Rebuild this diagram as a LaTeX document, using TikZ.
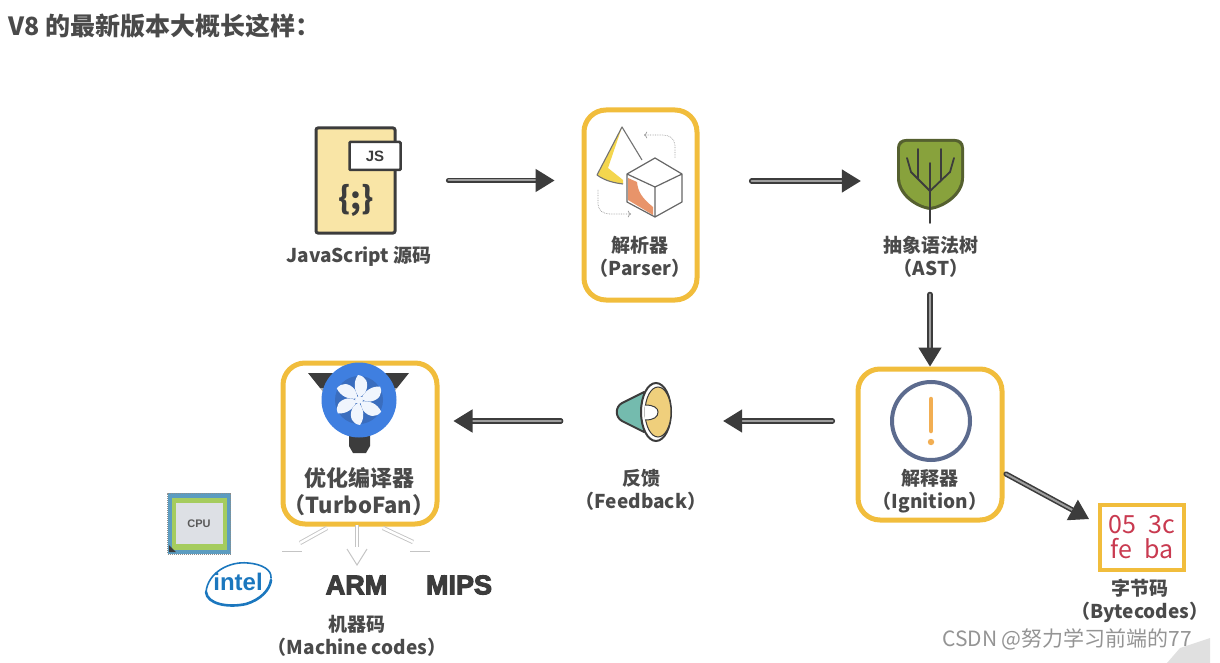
\documentclass[tikz,border=0pt]{standalone}
\usepackage{fontspec}
\setmainfont{Noto Sans CJK SC}
\newfontfamily\latinbold{Liberation Sans}
\newfontfamily\chipfont[UprightFont=* Bold,FakeBold=4]{Liberation Sans}
\usepackage{tikz}
\usetikzlibrary{arrows.meta,positioning}
\definecolor{boxyellow}{HTML}{F1BD3C}
\definecolor{inkdark}{HTML}{3C3C3C}
\definecolor{labgray}{HTML}{4A4A4A}
\definecolor{paleline}{HTML}{C4C4C4}
\definecolor{fileyellow}{HTML}{F9E5A6}
\definecolor{bandyellow}{HTML}{F4D64E}
\definecolor{coneteal}{HTML}{74BBAE}
\definecolor{hornyellow}{HTML}{EFCF7C}
\definecolor{cubeorange}{HTML}{E8946A}
\definecolor{leafdark}{HTML}{55602F}
\definecolor{leafgreen}{HTML}{88A23C}
\definecolor{fanblue}{HTML}{3F7FE0}
\definecolor{fandark}{HTML}{3A6DBE}
\definecolor{slatering}{HTML}{5C6B8E}
\definecolor{markorange}{HTML}{F2AE52}
\definecolor{intelblue}{HTML}{1B77BE}
\definecolor{bytered}{HTML}{C93A50}
\definecolor{cpublue}{HTML}{5C9CC0}
\definecolor{cpugreen}{HTML}{A5CC5E}
\definecolor{cpucore}{HTML}{DDE0E5}
\tikzset{
  ybox/.style  ={draw=boxyellow,line width=5pt,rounded corners=22pt,fill=white,inner sep=0pt},
  flow/.style  ={-{Triangle[length=19pt,width=23pt,fill=inkdark]},draw=inkdark,line width=1.6pt,
                 double=black!38,double distance=2pt,line cap=round},
  lab/.style   ={font=\fontsize{19}{23}\selectfont\bfseries,text=labgray,align=center,inner sep=0pt},
  pale/.style  ={draw=paleline,line width=1pt},
  palebar/.style ={draw=paleline,line width=0.9pt,double=white,double distance=2.5pt},
  dots/.style  ={draw=black!40,line width=0.7pt,densely dotted},
  chiptext/.style ={font=\fontsize{27}{27}\selectfont\chipfont,text=inkdark,inner sep=0pt},
}
\begin{document}
\begin{tikzpicture}[x=1pt,y=-1pt]
\useasboundingbox (0,0) rectangle (1220,663);

\node[anchor=west,inner sep=0pt,text=labgray,font=\fontsize{25}{29}\selectfont\bfseries]
      (title) at (8,26) {V8 的最新版本大概长这样：};

%% source file
\node[draw=inkdark,line width=3pt,fill=fileyellow,rounded corners=2pt,
      minimum width=79pt,minimum height=105pt] (jsfile) at (355.5,180.5) {};
\node[draw=inkdark,line width=2.5pt,fill=white,rounded corners=1pt,minimum width=51pt,
      minimum height=28pt,inner sep=0pt,font=\fontsize{15}{15}\selectfont\latinbold\bfseries,
      text=inkdark] (jstag) at (375,156) {JS};
\node[inner sep=0pt,text=inkdark,font=\fontsize{31}{31}\selectfont\bfseries] (jscode) at (356,200) {\{;\}};
\node[lab] (jslab) at (359,256) {JavaScript 源码};

%% parser
\node[ybox,minimum width=113pt,minimum height=190pt] (parser) at (640.5,205) {};
\fill[fill=bandyellow] (622,127) -- (597,175) .. controls (605,181) and (615,183) .. (623,184)
      -- (623,180) -- (608,168) -- cycle;
\draw[draw=black!55,line width=1.1pt,line join=round] (642,160) -- (622,127) -- (597,175)
      .. controls (605,181) and (615,183) .. (623,184);
\fill[fill=cubeorange] (628,178) -- (637,182) .. controls (638,192) and (642,198) .. (653,207)
      -- (653,215) -- (628,200) -- cycle;
\draw[draw=black!60,line width=1.2pt,line join=round] (655,158) -- (682,174) -- (682,202) -- (655,217)
      -- (627,202) -- (627,174) -- cycle (627,174) -- (655,187) -- (682,174) (655,187) -- (655,217);
\draw[dots,->] (675,158) -- (675,146) .. controls (675,139) and (670,135) .. (663,135) -- (644,135);
\draw[dots,->] (598,190) -- (598,204) .. controls (598,210) and (603,214) .. (610,214) -- (631,214);
\node[lab] (parserlab) at (640,256.5) {解析器\\（Parser）};

%% tree
\node[inner sep=0pt,minimum width=66pt,minimum height=85pt] (tree) at (930,181) {};
\fill[fill=leafdark] (897,148) .. controls (897,142) and (901,139) .. (906,139) -- (955,139)
      .. controls (960,139) and (964,142) .. (964,148) -- (964,178) .. controls (964,195) and (945,208) .. (930,210)
      .. controls (915,208) and (897,195) .. (897,178) -- cycle;
\fill[fill=leafgreen] (900,148) .. controls (900,145) and (903,142) .. (906,142) -- (955,142)
      .. controls (958,142) and (961,145) .. (961,148) -- (961,178) .. controls (961,192) and (944,205) .. (930,207)
      .. controls (916,205) and (900,192) .. (900,178) -- cycle;
\draw[draw=inkdark,line width=1.8pt,line cap=round]
      (930,223) -- (930,163) (930,191) -- (911,172) -- (907,158) (918,179) -- (918,149)
      (930,191) -- (950,172) -- (954,158) (941,181) -- (941,149);
\node[lab] (astlab) at (931,256.5) {抽象语法树\\（AST）};

%% ignition
\node[ybox,minimum width=144pt,minimum height=151pt] (ignition) at (930,444.5) {};
\node[circle,draw=slatering,line width=4pt,fill=white,minimum size=78pt,inner sep=0pt] (ignring) at (931,421) {};
\draw[draw=markorange,line width=4.5pt,line cap=round] (931,399) -- (931,431);
\fill[fill=markorange] (931,442) circle (3.2pt);
\node[lab] (ignlab) at (930,491.5) {解释器\\（Ignition）};

%% feedback
\node[inner sep=0pt,minimum width=55pt,minimum height=60pt] (bell) at (644.5,412) {};
\draw[draw=inkdark,fill=coneteal,line width=2pt,line join=round] (644,392) -- (622,403)
      .. controls (615,407) and (615,417) .. (622,421) -- (644,432) -- cycle;
\draw[draw=inkdark,fill=white,line width=2pt] (656,412) ellipse (15pt and 29pt);
\draw[draw=inkdark,fill=hornyellow,line width=1pt] (658,412) ellipse (13pt and 25pt);
\fill[fill=white] (645,405) .. controls (654,405) and (658,408) .. (658,412) .. controls (658,417) and (654,420) .. (645,420) -- cycle;
\draw[draw=inkdark,line width=1pt] (645,405) .. controls (654,405) and (658,408) .. (658,412) .. controls (658,417) and (654,420) .. (645,420);
\node[lab] (fblab) at (641,490) {反馈\\（Feedback）};

%% turbofan
\node[ybox,minimum width=154pt,minimum height=161pt] (turbo) at (360,443.5) {};
\fill[fill=inkdark] (308,373) -- (409,373) -- (397,388) -- (320,388) -- cycle;
\fill[fill=black!35] (320,388) -- (397,388) -- (391,396) -- (326,396) -- cycle;
\fill[fill=inkdark] (349,436) -- (370,436) -- (370,446) -- (366,453) -- (353,453) -- (349,446) -- cycle;
\node[circle,fill=fanblue,minimum size=75pt,inner sep=0pt] (fan) at (359,400) {};
\fill[fill=fandark] (fan.center) circle (24pt);
\foreach \ang in {0,60,...,300}
  \fill[fill=white!92!fanblue,shift={(fan.center)},rotate=\ang]
       (0,-3) .. controls (-5,-9) and (-6,-18) .. (-1,-25) .. controls (7,-24) and (10,-17) .. (7,-9)
       .. controls (5,-6) and (3,-3) .. (0,-3) -- cycle;
\fill[fill=white!92!fanblue] (fan.center) circle (4pt);
\node[lab,font=\fontsize{22}{27}\selectfont\bfseries] (turbolab) at (359,491.5) {优化编译器\\（TurboFan）};

%% machine code
\coordinate (barL) at (327,528);
\coordinate (tipL) at (300,543);
\coordinate (barM) at (357,525);
\coordinate (tipM) at (357,547);
\coordinate (barR) at (383,528);
\coordinate (tipR) at (413,542);
\draw[palebar] (barL) -- (tipL);
\draw[palebar] (barM) -- (tipM);
\draw[palebar] (barR) -- (tipR);
\draw[pale] (282,551) -- (302,551);
\draw[pale] (347,549) -- (357,565) -- (367,549);
\draw[pale] (410,551) -- (430,551);

\node[draw=black!45,densely dotted,line width=1pt,fill=cpublue,
      minimum width=63pt,minimum height=61pt,inner sep=0pt] (cpu) at (199,523.5) {};
\node[fill=cpugreen,minimum width=55pt,minimum height=52pt,inner sep=0pt] (cpuring) at (cpu.center) {};
\fill[fill=inkdark] (169,552) -- (169,545) -- (176,552) -- cycle;
\node[fill=cpucore,minimum width=47pt,minimum height=41pt,inner sep=0pt,text=black!65,
      font=\fontsize{11}{11}\selectfont\latinbold\bfseries] (cpucore) at (cpu.center) {CPU};
\draw[draw=intelblue,line width=1.6pt,line cap=round] (206,592)
      .. controls (208,572) and (230,561) .. (248,563) .. controls (262,564) and (272,570) .. (271,578);
\draw[draw=intelblue,line width=2.6pt,line cap=round] (206,592)
      .. controls (207,604) and (228,608) .. (246,604) .. controls (260,600) and (270,590) .. (271,580);
\node[inner sep=0pt,text=intelblue,font=\fontsize{24}{24}\selectfont\latinbold\bfseries] (intel) at (238,582) {intel};
\node[chiptext] (arm) at (356.5,585) {ARM};
\node[chiptext] (mips) at (459,585) {MIPS};
\node[lab] (mclab) at (357,636) {机器码\\（Machine codes）};

%% bytecodes
\node[draw=boxyellow,line width=4pt,fill=white,minimum width=84pt,minimum height=65pt,inner sep=0pt,
      text=bytered,align=center,font=\fontsize{25}{25}\selectfont\itshape] (bytes) at (1142,537.5)
      {05\hspace{12pt}3c\\fe\hspace{12pt}ba};
\node[lab] (bytelab) at (1140,600.5) {字节码\\（Bytecodes）};

%% connectors
\coordinate (ignout) at (1006,474);
\coordinate (bytein) at (1089,519);
\draw[flow,shorten <=52pt,shorten >=27pt] (jsfile.east) -- (parser.west |- jsfile.east);
\draw[flow,shorten <=52pt,shorten >=36pt] (parser.east |- tree) -- (tree.west);
\draw[flow,shorten <=17pt,shorten >=0pt] (astlab.south -| ignition) -- (ignition.north);
\draw[flow,shorten <=23pt,shorten >=51pt] (ignition.west |- ignring) -- (bell.east |- ignring);
\draw[flow,shorten <=56pt,shorten >=14pt] (bell.west |- ignring) -- (turbo.east |- ignring);
\draw[flow] (ignout) -- (bytein);

%% mark of the site
\fill[fill=black!12] (1167,663) -- (1180,648) -- (1210,638) -- (1210,663) -- cycle;
\node[anchor=west,inner sep=0pt,text=black!42,font=\fontsize{21}{21}\selectfont] (mark) at (942,639) {CSDN @努力学习前端的77};

\end{tikzpicture}
\end{document}
